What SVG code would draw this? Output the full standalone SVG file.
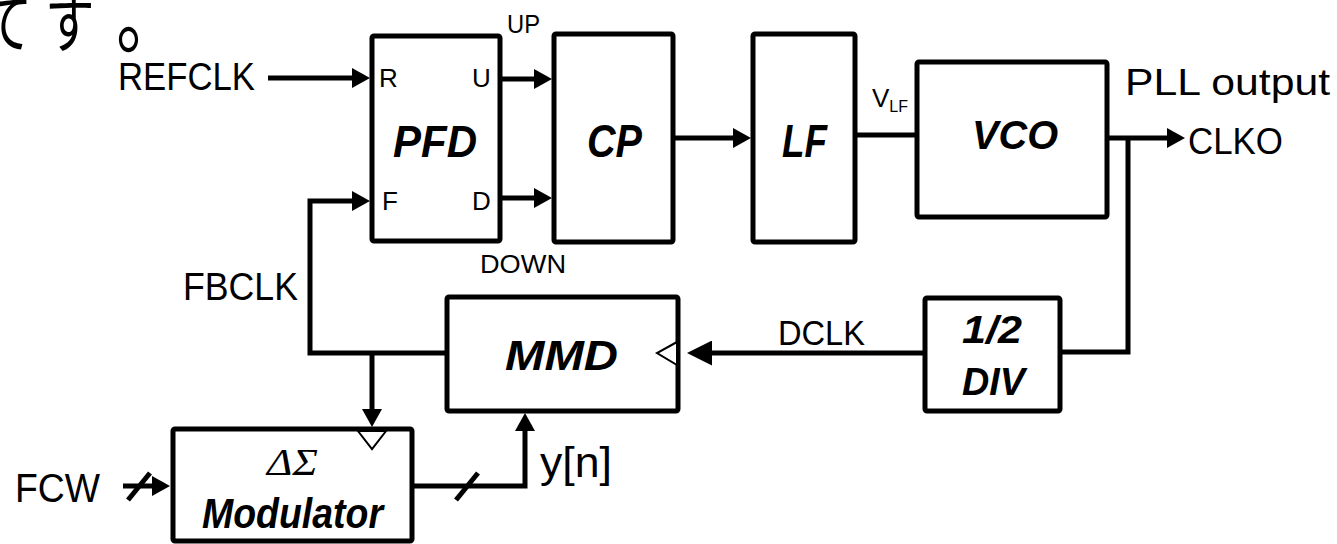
<svg xmlns="http://www.w3.org/2000/svg" width="1337" height="544" viewBox="0 0 1337 544">
<style>
.box{fill:#fff;stroke:#000;stroke-width:5;stroke-linejoin:round}
.w{fill:none;stroke:#000;stroke-width:5;stroke-linejoin:miter}
.clk{fill:#fff;stroke:#000;stroke-width:2}
.t{font-family:"Liberation Sans",Arial,sans-serif;fill:#000}
.b{font-family:"Liberation Sans",Arial,sans-serif;font-weight:bold;font-style:italic;fill:#000}
.s{font-family:"Liberation Serif","Times New Roman",serif;font-style:italic;fill:#000}
.jp{font-family:"Noto Sans CJK JP",sans-serif;fill:#000}
</style>
<defs>
<marker id="ah" markerUnits="userSpaceOnUse" markerWidth="18" markerHeight="20" refX="10" refY="10" orient="auto"><path d="M0,0 L18,10 L0,20 Z" fill="#000"/></marker>
<marker id="ahL" markerUnits="userSpaceOnUse" markerWidth="25" markerHeight="25" refX="17" refY="12.5" orient="auto"><path d="M0,0 L25,12.5 L0,25 Z" fill="#000"/></marker>
</defs>
<rect width="1337" height="544" fill="#fff"/>
<text class="jp" font-size="66" y="47" transform="scale(0.75,1)"><tspan x="-23">て</tspan><tspan x="60">す</tspan><tspan x="155" y="47" font-size="84">。</tspan></text>

<g id="connectors">
<path class="w" d="M268,78 H362" marker-end="url(#ah)"/>
<path class="w" d="M502,79 H544" marker-end="url(#ah)"/>
<path class="w" d="M502,198 H544" marker-end="url(#ah)"/>
<path class="w" d="M447,353 H310 V201 H362" marker-end="url(#ah)"/>
<path class="w" d="M372,353 V419" marker-end="url(#ah)"/>
<path class="w" d="M675,138 H743" marker-end="url(#ah)"/>
<path class="w" d="M855,135 H917"/>
<path class="w" d="M1107,138 H1177" marker-end="url(#ah)"/>
<path class="w" d="M1128,138 V352 H1060"/>
<path class="w" d="M925,353 H695" marker-end="url(#ahL)"/>
<path class="w" d="M123,486 H162" marker-end="url(#ah)"/>
<path class="w" d="M128,500 L150,473"/>
<path class="w" d="M412,486 H525 V421" marker-end="url(#ah)"/>
<path class="w" d="M456,500 L478,473"/>
</g>

<g id="pfd">
<rect class="box" x="372" y="36" width="128" height="205" rx="2"/>
<text class="t" x="379" y="87" font-size="26">R</text>
<text class="t" x="472" y="87" font-size="26">U</text>
<text class="t" x="382" y="210" font-size="26">F</text>
<text class="t" x="472" y="210" font-size="26">D</text>
<text class="b" x="393" y="157" font-size="45" textLength="84" lengthAdjust="spacingAndGlyphs">PFD</text>
</g>
<g id="cp">
<rect class="box" x="554" y="34" width="119" height="208" rx="2"/>
<text class="b" x="587" y="157" font-size="46" textLength="55" lengthAdjust="spacingAndGlyphs">CP</text>
</g>
<g id="lf">
<rect class="box" x="753" y="34" width="102" height="208" rx="2"/>
<text class="b" x="782" y="157" font-size="47" textLength="45" lengthAdjust="spacingAndGlyphs">LF</text>
</g>
<g id="vco">
<rect class="box" x="917" y="62" width="190" height="155" rx="2"/>
<text class="b" x="972" y="149" font-size="40" textLength="86" lengthAdjust="spacingAndGlyphs">VCO</text>
</g>
<g id="mmd">
<rect class="box" x="447" y="297" width="231" height="114" rx="2"/>
<text class="b" x="505" y="370" font-size="42" textLength="113" lengthAdjust="spacingAndGlyphs">MMD</text>
<polygon class="clk" points="677,342 657,353 677,365"/>
</g>
<g id="div">
<rect class="box" x="925" y="298" width="135" height="113" rx="2"/>
<text class="b" x="962" y="343" font-size="39" textLength="60" lengthAdjust="spacingAndGlyphs">1/2</text>
<text class="b" x="962" y="395" font-size="38" textLength="63" lengthAdjust="spacingAndGlyphs">DIV</text>
</g>
<g id="modulator">
<rect class="box" x="173" y="429" width="239" height="112" rx="2"/>
<polygon class="clk" points="358,431 386,431 372,449"/>
<text class="s" x="267" y="475" font-size="38" textLength="51" lengthAdjust="spacingAndGlyphs">ΔΣ</text>
<text class="b" x="202" y="528" font-size="43" textLength="181" lengthAdjust="spacingAndGlyphs">Modulator</text>
</g>

<g id="labels">
<text class="t" x="118" y="90" font-size="39" textLength="137" lengthAdjust="spacingAndGlyphs">REFCLK</text>
<text class="t" x="507" y="33" font-size="25" textLength="33" lengthAdjust="spacingAndGlyphs">UP</text>
<text class="t" x="480" y="273" font-size="25" textLength="86" lengthAdjust="spacingAndGlyphs">DOWN</text>
<text class="t" x="872" y="107" font-size="26">V<tspan font-size="16" dy="5">LF</tspan></text>
<text class="t" x="1125" y="95" font-size="36" textLength="205" lengthAdjust="spacingAndGlyphs">PLL output</text>
<text class="t" x="1188" y="154" font-size="37" textLength="95" lengthAdjust="spacingAndGlyphs">CLKO</text>
<text class="t" x="183" y="300" font-size="39" textLength="115" lengthAdjust="spacingAndGlyphs">FBCLK</text>
<text class="t" x="778" y="345" font-size="35" textLength="87" lengthAdjust="spacingAndGlyphs">DCLK</text>
<text class="t" x="15" y="502" font-size="40" textLength="85" lengthAdjust="spacingAndGlyphs">FCW</text>
<text class="t" x="540" y="477" font-size="42" textLength="72" lengthAdjust="spacingAndGlyphs">y[n]</text>
</g>
</svg>
